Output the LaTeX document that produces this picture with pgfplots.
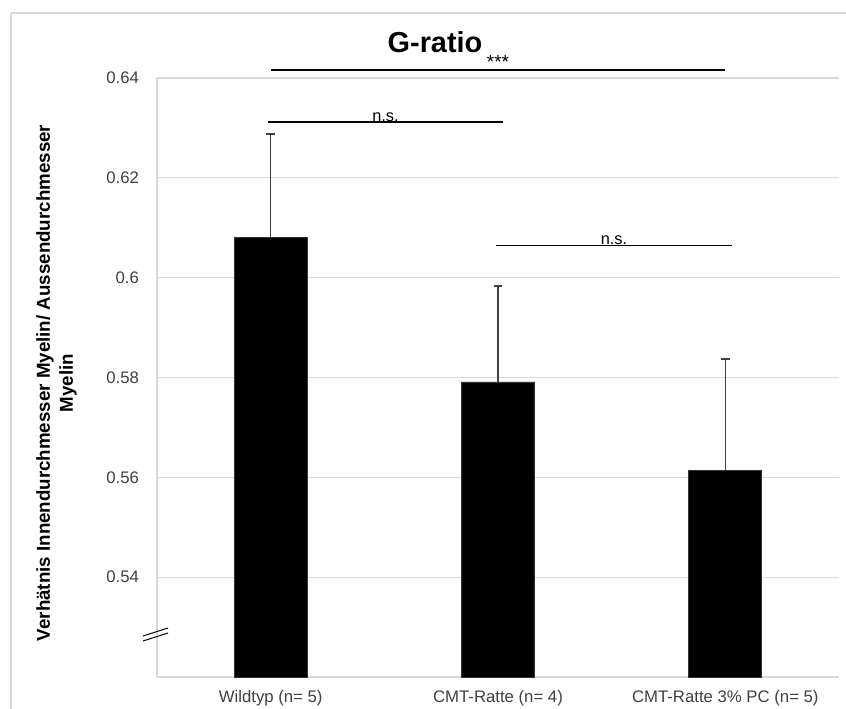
\documentclass[border=0pt]{standalone}
\usepackage{fontspec}
\setmainfont{Liberation Sans}
\usepackage{pgfplots}
\pgfplotsset{compat=1.18}
\definecolor{gridgrey}{HTML}{D9D9D9}
\definecolor{errgrey}{HTML}{404040}
\definecolor{ticktext}{HTML}{404040}
\begin{document}
\begin{tikzpicture}
\useasboundingbox (0,0) rectangle (423bp,354.5bp);
\draw[gridgrey, line width=0.6bp] (5.5bp,0) -- (5.5bp,348bp) -- (423bp,348bp);
\begin{axis}[
  at={(78.5bp,16bp)}, anchor=south west,
  scale only axis, width=341bp, height=299.5bp,
  xmin=-0.5, xmax=2.5, ymin=0.52, ymax=0.64,
  axis x line*=bottom, axis y line*=left,
  axis line style={draw=gridgrey, line width=0.6bp, -},
  xtick={0,1,2},
  xticklabels={Wildtyp (n= 5), CMT-Ratte (n= 4), CMT-Ratte 3\% PC (n= 5)},
  ytick={0.54,0.56,0.58,0.6,0.62,0.64},
  yticklabels={0.54,0.56,0.58,0.6,0.62,0.64},
  major tick length=0pt,
  ymajorgrids, grid style={draw=gridgrey, line width=0.6bp},
  tick label style={font=\fontsize{8.4}{10}\selectfont, text=ticktext},
  yticklabel style={xshift=-5.5bp},
  xticklabel style={yshift=-3bp},
  /pgf/number format/assume math mode=true,
  clip mode=individual,
  ybar, bar width=36.5bp,
]
\addplot[fill=black, draw=black!80, line width=0.4bp,
  error bars/.cd, y dir=plus, y explicit,
  error bar style={color=errgrey, line width=0.6bp},
  error mark options={rotate=90, mark size=2.2bp, line width=0.9bp, color=errgrey}]
  coordinates {
  (0,0.6080) +- (0,0.0208)
  (1,0.5791) +- (0,0.0192)
  (2,0.5614) +- (0,0.0223)
};
\draw[black, line width=0.7bp] (axis cs:0,0.6416) -- (axis cs:2.0,0.6416)
  node[pos=0.5, above, inner sep=0.3bp, font=\fontsize{9.5}{10}\selectfont] {***};
\draw[black, line width=0.7bp] (axis cs:-0.01,0.6312) -- (axis cs:1.02,0.6312)
  node[pos=0.5, above, inner sep=0bp, yshift=-0.3bp, font=\fontsize{8.2}{9}\selectfont] {n.s.};
\draw[black, line width=0.7bp] (axis cs:0.99,0.6065) -- (axis cs:2.03,0.6065)
  node[pos=0.5, above, inner sep=0bp, yshift=-0.3bp, font=\fontsize{8.2}{9}\selectfont] {n.s.};
\end{axis}
\draw[black, line width=0.5bp] (71.5bp,36.5bp) -- (84bp,40.5bp);
\draw[black, line width=0.5bp] (71.5bp,34bp) -- (84bp,38bp);
\node[font=\fontsize{14.5}{17}\selectfont\bfseries] at (217.5bp,333.5bp) {G-ratio};
\node[rotate=90, align=center, font=\fontsize{9.4}{11.5}\selectfont\bfseries] at (28.25bp,163bp)
  {Verhätnis Innendurchmesser Myelin/ Aussendurchmesser\\Myelin};
\end{tikzpicture}
\end{document}
